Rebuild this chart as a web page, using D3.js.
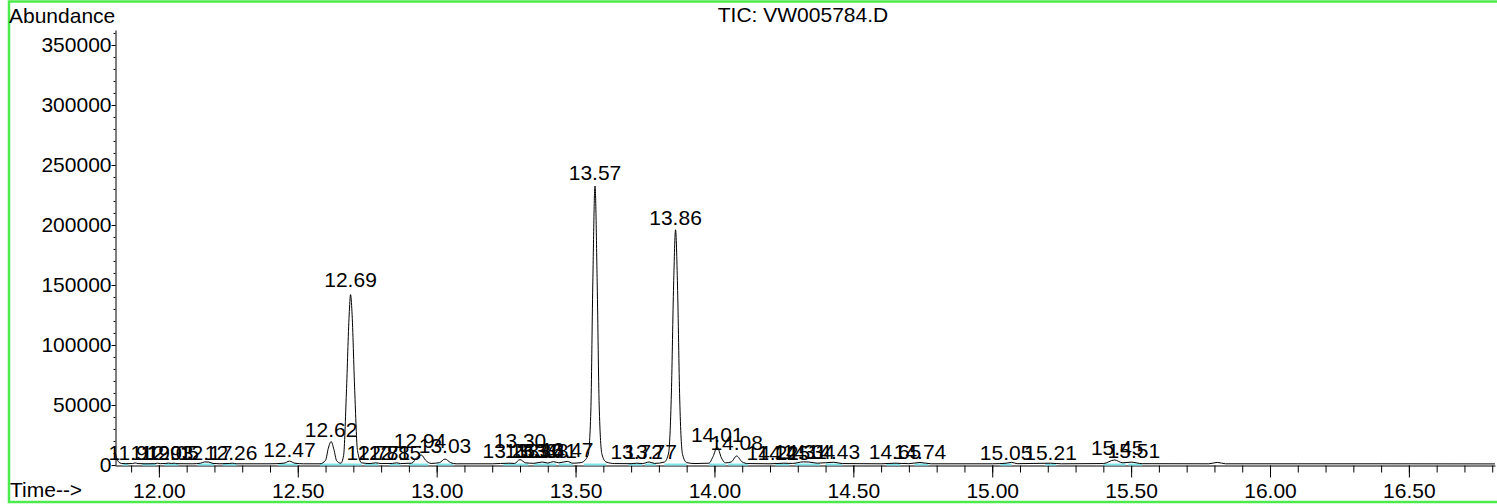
<!DOCTYPE html>
<html>
<head>
<meta charset="utf-8">
<script src="https://cdn.jsdelivr.net/npm/d3@7"></script>
<style>
  body { margin: 0; background: #fff; }
  svg { display: block; font-family: 'Liberation Sans', Arial, sans-serif; }
</style>
</head>
<body>
<script>
'use strict';

// retention time (min) and abundance of the TIC trace
let traceTime = [
  11.842, 11.848, 11.855, 11.865, 11.88, 11.905, 11.915, 11.925, 11.95, 11.985,
  11.995, 12.005, 12.025, 12.035, 12.045, 12.055, 12.065, 12.12, 12.15, 12.165,
  12.18, 12.195, 12.22, 12.255, 12.265, 12.28, 12.40, 12.45, 12.47, 12.49,
  12.52, 12.58, 12.60, 12.61, 12.62, 12.63, 12.64, 12.655, 12.665, 12.675,
  12.685, 12.69, 12.695, 12.705, 12.715, 12.73, 12.76, 12.78, 12.80, 12.84,
  12.855, 12.87, 12.91, 12.93, 12.945, 12.96, 12.98, 13.01, 13.03, 13.05,
  13.07, 13.20, 13.26, 13.28, 13.30, 13.32, 13.35, 13.38, 13.40, 13.42,
  13.44, 13.47, 13.49, 13.52, 13.545, 13.555, 13.562, 13.57, 13.578, 13.585,
  13.595, 13.61, 13.64, 13.70, 13.72, 13.74, 13.765, 13.785, 13.82, 13.835,
  13.845, 13.853, 13.86, 13.867, 13.875, 13.885, 13.90, 13.93, 13.98, 13.995,
  14.01, 14.025, 14.04, 14.06, 14.08, 14.10, 14.12, 14.20, 14.25, 14.28,
  14.32, 14.34, 14.37, 14.43, 14.46, 14.60, 14.65, 14.70, 14.74, 14.78,
  15.00, 15.05, 15.07, 15.09, 15.21, 15.25, 15.40, 15.44, 15.47, 15.50,
  15.54, 15.78, 15.81, 15.84, 16.10, 16.40, 16.81
];
let traceAbund = [
  11000, 6000, 2500, 1300, 1100, 1200, 1700, 1200, 1000, 1100,
  1500, 1100, 1300, 1600, 1300, 1500, 1100, 1000, 1500, 2600,
  2400, 1300, 1000, 1300, 1500, 1000, 1000, 1500, 3200, 1500,
  1000, 1000, 4000, 14000, 19500, 13000, 3500, 1500, 8000, 60000,
  125000, 142000, 128000, 62000, 12000, 1800, 1200, 1800, 1200, 1300,
  1800, 1200, 1500, 6500, 8300, 4000, 1300, 2000, 5000, 2000,
  1000, 1000, 1500, 1300, 4500, 1800, 1400, 2500, 1600, 2800,
  1800, 3000, 1500, 2000, 8000, 45000, 150000, 232500, 150000, 50000,
  9000, 2500, 1200, 1100, 1500, 1200, 2500, 1300, 2500, 10000,
  60000, 150000, 196000, 150000, 55000, 9000, 2000, 1200, 1500, 7000,
  15000, 6000, 1800, 2500, 7500, 2500, 1200, 1000, 1500, 1300,
  2600, 2500, 1500, 2300, 1200, 1000, 1500, 1100, 2100, 1000,
  1000, 1500, 2200, 1100, 1500, 1000, 1200, 4200, 1800, 2400,
  1100, 1000, 2200, 1000, 1000, 1000, 900
];

let peakLabels = [
  '11.91', '11.99', '12.03', '12.05', '12.17', '12.26', '12.47', '12.62', '12.69', '12.77',
  '12.81', '12.85', '12.94', '13.03', '13.26', '13.30', '13.34', '13.36', '13.38', '13.41',
  '13.47', '13.57', '13.72', '13.77', '13.86', '14.01', '14.08', '14.21', '14.25', '14.31',
  '14.34', '14.43', '14.65', '14.74', '15.05', '15.21', '15.45', '15.51'
];
let labelAbund = [
  1000, 1000, 1000, 1000, 1000, 1000, 3300, 20000, 145000, 1000,
  1000, 1000, 11000, 6700, 2500, 10800, 2500, 2500, 2500, 2500,
  3300, 234000, 1500, 1500, 196700, 15800, 9000, 1000, 1000, 1500,
  1500, 1500, 1500, 1500, 1000, 1000, 5000, 2500
];

// integration baselines
let baseStart = [
  11.87, 11.94, 12.02, 12.14, 12.23, 12.43, 12.58, 12.66, 12.74, 12.83,
  12.90, 13.00, 13.24, 13.28, 13.35, 13.44, 13.53, 13.69, 13.75, 13.82,
  13.98, 14.05, 14.22, 14.29, 14.40, 14.62, 14.72, 15.03, 15.19, 15.40,
  15.49
];
let baseEnd = [
  11.89, 11.99, 12.07, 12.20, 12.28, 12.50, 12.66, 12.73, 12.79, 12.87,
  12.97, 13.06, 13.28, 13.33, 13.43, 13.49, 13.61, 13.74, 13.79, 13.90,
  14.04, 14.12, 14.27, 14.38, 14.46, 14.67, 14.77, 15.07, 15.23, 15.48,
  15.54
];

let xMajor = [12.00, 12.50, 13.00, 13.50, 14.00, 14.50, 15.00, 15.50, 16.00, 16.50];
let xMinor = d3.range(11.9, 16.85, 0.1);
let yMajor = [0, 50000, 100000, 150000, 200000, 250000, 300000, 350000];
let yMinor = d3.range(0, 362500, 10000);

let width = 1497;
let height = 504;
let fontSize = 21;

let x = d3.scaleLinear()
    .domain([11.842, 16.81])
    .range([115, 1495]);

let y = d3.scaleLinear()
    .domain([0, 362500])
    .range([465, 30]);

let svg = d3.select('body').append('svg')
    .attr('width', width)
    .attr('height', height);

svg.append('rect')
    .attr('x', 9)
    .attr('y', 1.5)
    .attr('width', 1500)
    .attr('height', 500.5)
    .attr('fill', 'none')
    .attr('stroke', '#4ceb4c')
    .attr('stroke-width', 2.5);

// y axis
svg.append('g')
    .attr('transform', 'translate(115.5,0)')
    .call(d3.axisLeft(y).tickValues(yMinor).tickSize(2).tickSizeOuter(0).tickFormat(''))
    .call(g => g.select('.domain').remove());

svg.append('g')
    .attr('transform', 'translate(115.5,0)')
    .call(d3.axisLeft(y).tickValues(yMajor).tickSize(4).tickPadding(0).tickSizeOuter(0)
      .tickFormat(d3.format('d')));

// x axis
svg.append('g')
    .attr('transform', 'translate(0,465.5)')
    .call(d3.axisBottom(x).tickValues(xMinor).tickSize(7).tickSizeOuter(0).tickFormat(''))
    .call(g => g.select('.domain').remove());

svg.append('g')
    .attr('transform', 'translate(0,465.5)')
    .call(d3.axisBottom(x).tickValues(xMajor).tickSize(12).tickPadding(6).tickSizeOuter(0)
      .tickFormat(d3.format('.2f')));

svg.selectAll('.tick text')
    .attr('font-family', "'Liberation Sans', Arial, sans-serif")
    .attr('font-size', fontSize)
    .attr('fill', '#000');

// integration baselines
svg.append('g')
  .selectAll('line')
  .data(d3.zip(baseStart, baseEnd))
  .enter().append('line')
    .attr('x1', d => x(d[0]))
    .attr('x2', d => x(d[1]))
    .attr('y1', 464.5)
    .attr('y2', 464.5)
    .attr('stroke', '#7fe6ee')
    .attr('stroke-width', 2);

let line = d3.line()
    .x(d => x(d[0]))
    .y(d => y(d[1]))
    .curve(d3.curveMonotoneX);

svg.append('path')
    .datum(d3.zip(traceTime, traceAbund))
    .attr('d', line)
    .attr('fill', 'none')
    .attr('stroke', '#000')
    .attr('stroke-width', 1);

// peak labels
svg.append('g')
  .selectAll('text')
  .data(d3.zip(peakLabels, labelAbund))
  .enter().append('text')
    .attr('x', d => x(+d[0]))
    .attr('y', d => y(d[1]) - 4)
    .attr('text-anchor', 'middle')
    .attr('font-size', fontSize)
    .text(d => d[0]);

svg.append('text')
    .attr('x', 9)
    .attr('y', 23)
    .attr('font-size', fontSize)
    .text('Abundance');

svg.append('text')
    .attr('x', 803)
    .attr('y', 22)
    .attr('text-anchor', 'middle')
    .attr('font-size', fontSize)
    .text('TIC: VW005784.D');

svg.append('text')
    .attr('x', 10)
    .attr('y', 497)
    .attr('font-size', fontSize)
    .text('Time-->');
</script>
</body>
</html>
